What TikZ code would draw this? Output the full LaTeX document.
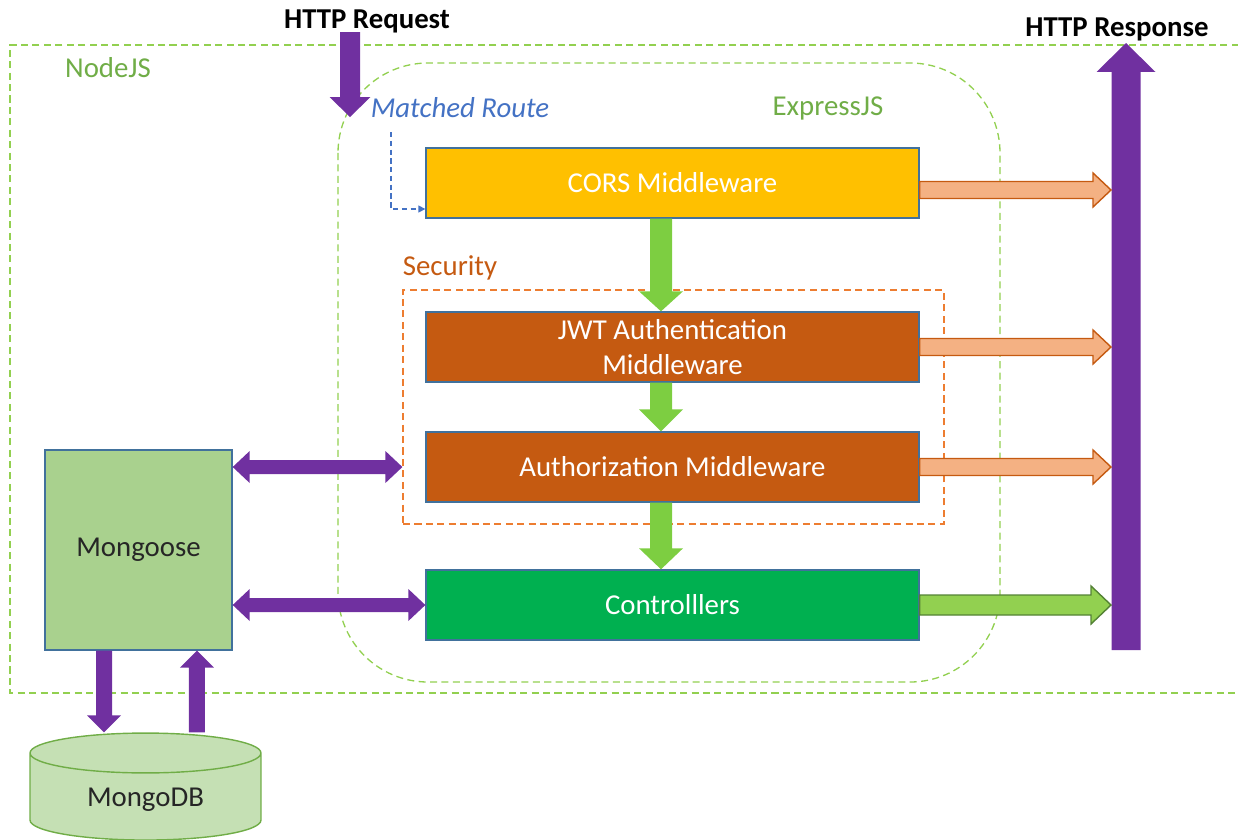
\documentclass[tikz,border=0pt]{standalone}
\usepackage{fontspec}
\setmainfont{Carlito}
\usetikzlibrary{calc,shapes.geometric,arrows.meta}

\definecolor{purp}{HTML}{7030A0}
\definecolor{dashgreen}{HTML}{92D050}
\definecolor{labgreen}{HTML}{70AD47}
\definecolor{routeblue}{HTML}{4472C4}
\definecolor{boxline}{HTML}{41719C}
\definecolor{corsyellow}{HTML}{FFC000}
\definecolor{secbrown}{HTML}{C55A11}
\definecolor{secline}{HTML}{ED7D31}
\definecolor{exitorange}{HTML}{F4B183}
\definecolor{flowgreen}{HTML}{7DCE41}
\definecolor{ctrlgreen}{HTML}{00B050}
\definecolor{exitgreen}{HTML}{92D050}
\definecolor{exitline}{HTML}{548235}
\definecolor{goosegreen}{HTML}{A9D18E}
\definecolor{dbgreen}{HTML}{C5E0B4}
\definecolor{darktext}{HTML}{262626}

\begin{document}
\begin{tikzpicture}[x=0.02cm,y=-0.02cm,
  font=\fontsize{16.4}{19.5}\selectfont,
  mw/.style={draw=boxline,line width=0.8pt,minimum width=9.86cm,minimum height=1.4cm,text=white,align=center},
  frame/.style={line width=0.75pt,dash pattern=on 4pt off 2.5pt},
  fatarrow/.style n args={3}{to path={($(\tikztotarget)!#3!(\tikztostart)$) coordinate (fahead)
    ($(\tikztostart)!#1!90:(\tikztotarget)$) -- ($(fahead)!#1!90:(\tikztotarget)$)
    -- ($(fahead)!#2!90:(\tikztotarget)$) -- (\tikztotarget)
    -- ($(fahead)!#2!-90:(\tikztotarget)$) -- ($(fahead)!#1!-90:(\tikztotarget)$)
    -- ($(\tikztostart)!#1!-90:(\tikztotarget)$) -- cycle}},
  twinarrow/.style n args={3}{to path={($(\tikztostart)!#3!(\tikztotarget)$) coordinate (heada)
    ($(\tikztotarget)!#3!(\tikztostart)$) coordinate (headb)
    (\tikztostart) -- ($(heada)!#2!90:(\tikztotarget)$) -- ($(heada)!#1!90:(\tikztotarget)$)
    -- ($(headb)!#1!90:(\tikztotarget)$) -- ($(headb)!#2!90:(\tikztotarget)$) -- (\tikztotarget)
    -- ($(headb)!#2!-90:(\tikztotarget)$) -- ($(headb)!#1!-90:(\tikztotarget)$)
    -- ($(heada)!#1!-90:(\tikztotarget)$) -- ($(heada)!#2!-90:(\tikztotarget)$) -- cycle}}]

 \useasboundingbox (0,0) rectangle (1238,839);

% Outer frames
 \draw[frame,draw=dashgreen] (1250,45) -- (10,45) -- (10,693) -- (1250,693); % NodeJS
 \draw[frame,draw=dashgreen,rounded corners=1.8cm] (338,63) rectangle (1000,682); % ExpressJS
 \node[frame,draw=secline,minimum width=10.82cm,minimum height=4.68cm] (secbox) at (673.5,407) {};

 \node[text=labgreen] (nodejs) at (108,68) {NodeJS};
 \node[text=labgreen] (express) at (828,108) {ExpressJS};
 \node[text=secbrown] (security) at (450,268) {Security};
 \node[text=routeblue,font=\fontsize{16.4}{19.5}\selectfont\itshape] (matched) at (460,108) {Matched Route};
 \node[font=\fontsize{16.4}{19.5}\selectfont\bfseries] (httpreq) at (367,21) {HTTP Request};
 \node[font=\fontsize{16.4}{19.5}\selectfont\bfseries] (httpresp) at (1117,29) {HTTP Response};

% Middleware chain
 \node[mw,fill=corsyellow] (cors) at (672.5,183) {CORS Middleware};
 \node[mw,fill=secbrown] (jwt) at (672.5,347) {JWT Authentication\\Middleware};
 \node[mw,fill=secbrown] (authz) at (672.5,467) {Authorization Middleware};
 \node[mw,fill=ctrlgreen] (ctrl) at (672.5,605) {Controlllers};

% Data layer
 \node[draw=boxline,line width=0.8pt,fill=goosegreen,minimum width=3.74cm,minimum height=4cm,text=darktext] (mongoose) at (138.5,550) {Mongoose};
 \node[cylinder,shape border rotate=90,aspect=0.31,draw=labgreen,line width=0.8pt,fill=dbgreen,minimum width=4.62cm,minimum height=2.14cm,text=darktext] (mongodb) at (145.5,800) {MongoDB};

 \coordinate (reqtop) at (350,32);
 \coordinate (reqtip) at (350,117);
 \coordinate (respbot) at (1126,650);
 \coordinate (resptop) at (1126,43);
 \coordinate (respedge) at (1111,650);
 \coordinate (mrfoot) at (391,132);
 \coordinate (godown) at ([xshift=-0.69cm]mongoose.south);
 \coordinate (goup) at ([xshift=1.17cm]mongoose.south);

% Request in, response out
 \fill[purp] (reqtop) to[fatarrow={0.2cm}{0.41cm}{0.4cm}] (reqtip);
 \fill[purp] (respbot) to[fatarrow={0.29cm}{0.59cm}{0.58cm}] (resptop);
 \draw[routeblue,line width=0.8pt,dash pattern=on 3pt off 2pt,-{Triangle[length=4pt,width=4pt]}] (mrfoot) |- ([yshift=-0.52cm]cors.west);

% Flow down the chain
 \fill[flowgreen] ([xshift=-0.23cm]cors.south) to[fatarrow={0.22cm}{0.44cm}{0.4cm}] ([xshift=-0.23cm]jwt.north);
 \fill[flowgreen] ([xshift=-0.23cm]jwt.south) to[fatarrow={0.22cm}{0.44cm}{0.44cm}] ([xshift=-0.23cm]authz.north);
 \fill[flowgreen] ([xshift=-0.23cm]authz.south) to[fatarrow={0.22cm}{0.44cm}{0.42cm}] ([xshift=-0.23cm]ctrl.north);

% Early responses
 \filldraw[fill=exitorange,draw=secbrown,line width=0.8pt] ([yshift=-0.14cm]cors.east) to[fatarrow={0.17cm}{0.34cm}{0.36cm}] ([yshift=-0.14cm]cors.east -| respedge);
 \filldraw[fill=exitorange,draw=secbrown,line width=0.8pt] (jwt.east) to[fatarrow={0.17cm}{0.34cm}{0.36cm}] (jwt.east -| respedge);
 \filldraw[fill=exitorange,draw=secbrown,line width=0.8pt] (authz.east) to[fatarrow={0.17cm}{0.34cm}{0.36cm}] (authz.east -| respedge);
 \filldraw[fill=exitgreen,draw=exitline,line width=0.8pt] (ctrl.east) to[fatarrow={0.2cm}{0.38cm}{0.4cm}] (ctrl.east -| respedge);

% Mongoose links
 \fill[purp] (mongoose.east |- authz.west) to[twinarrow={0.14cm}{0.32cm}{0.34cm}] (authz.west -| secbox.west);
 \fill[purp] (mongoose.east |- ctrl.west) to[twinarrow={0.14cm}{0.32cm}{0.34cm}] (ctrl.west);
 \fill[purp] (godown) to[fatarrow={0.16cm}{0.34cm}{0.34cm}] (godown |- mongodb.north);
 \fill[purp] (goup |- mongodb.north) to[fatarrow={0.16cm}{0.34cm}{0.34cm}] (goup);

\end{tikzpicture}
\end{document}
